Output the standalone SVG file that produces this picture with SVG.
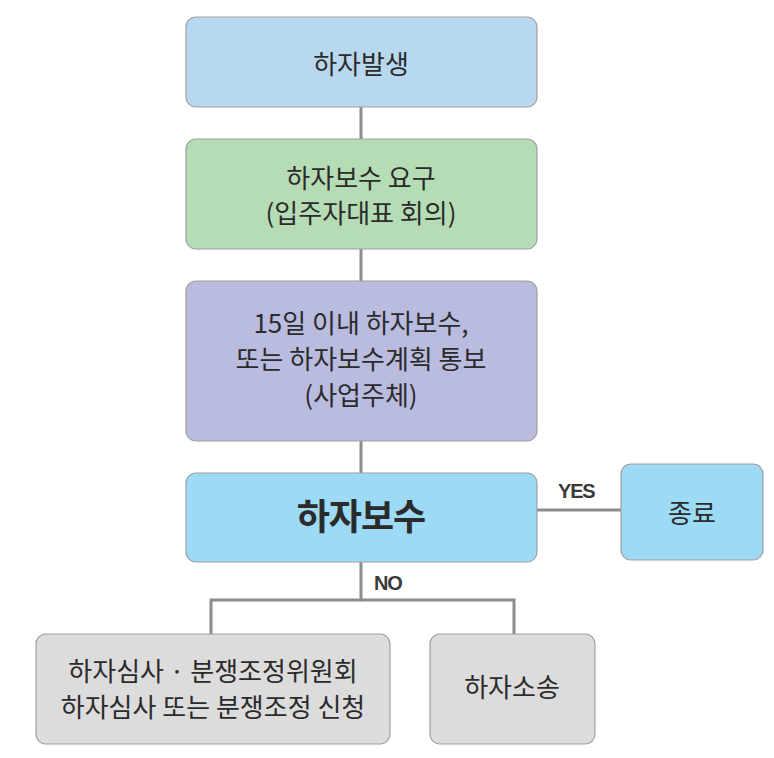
<svg xmlns="http://www.w3.org/2000/svg" width="774" height="758" viewBox="0 0 774 758">
<style>
.box{stroke:#a0a0a0;stroke-width:1.2}
.t{font-family:"Noto Sans CJK KR","Noto Sans",sans-serif;font-size:26px;fill:#2b2b2b;text-anchor:middle;letter-spacing:0px}
.b{font-weight:bold;font-size:36px;letter-spacing:-1px}
.lbl{font-family:"Liberation Sans",Arial,sans-serif;font-weight:bold;font-size:20px;fill:#3a3a3a;letter-spacing:-1.2px}
.c{stroke:#8c8c8c;stroke-width:3;fill:none}
</style>
<rect width="774" height="758" fill="#ffffff"/>
<g id="connectors">
<line class="c" x1="361" y1="107" x2="361" y2="139"/>
<line class="c" x1="361" y1="249" x2="361" y2="281"/>
<line class="c" x1="361" y1="441" x2="361" y2="473"/>
<line class="c" x1="537" y1="510" x2="621" y2="510"/>
<polyline class="c" points="361,562 361,600 211,600 211,634"/>
<polyline class="c" points="361,600 514,600 514,634"/>
<text class="lbl" x="558" y="498">YES</text>
<text class="lbl" x="374" y="590">NO</text>
</g>
<g id="n1">
<rect class="box" x="186" y="17" width="351" height="90" rx="10" fill="#b8d8ef"/>
<text class="t" x="361" y="74">하자발생</text>
</g>
<g id="n2">
<rect class="box" x="186" y="139" width="351" height="110" rx="10" fill="#b5dcb4"/>
<text class="t" x="361" y="188">하자보수 요구</text>
<text class="t" x="361" y="223">(입주자대표 회의)</text>
</g>
<g id="n3">
<rect class="box" x="186" y="281" width="351" height="160" rx="10" fill="#b9bcdf"/>
<text class="t" x="361" y="333">15일 이내 하자보수,</text>
<text class="t" x="361" y="369">또는 하자보수계획 통보</text>
<text class="t" x="361" y="405">(사업주체)</text>
</g>
<g id="n4">
<rect class="box" x="186" y="473" width="351" height="89" rx="10" fill="#9cdaf6"/>
<text class="t b" x="361" y="530">하자보수</text>
</g>
<g id="n5">
<rect class="box" x="621" y="464" width="142" height="96" rx="10" fill="#9cdaf6"/>
<text class="t" x="692" y="523">종료</text>
</g>
<g id="n6">
<rect class="box" x="36" y="634" width="354" height="110" rx="10" fill="#dcdcdc"/>
<text class="t" x="213" y="681">하자심사 · 분쟁조정위원회</text>
<text class="t" x="213" y="717">하자심사 또는 분쟁조정 신청</text>
</g>
<g id="n7">
<rect class="box" x="430" y="634" width="165" height="110" rx="10" fill="#dcdcdc"/>
<text class="t" x="512" y="697">하자소송</text>
</g>
</svg>
